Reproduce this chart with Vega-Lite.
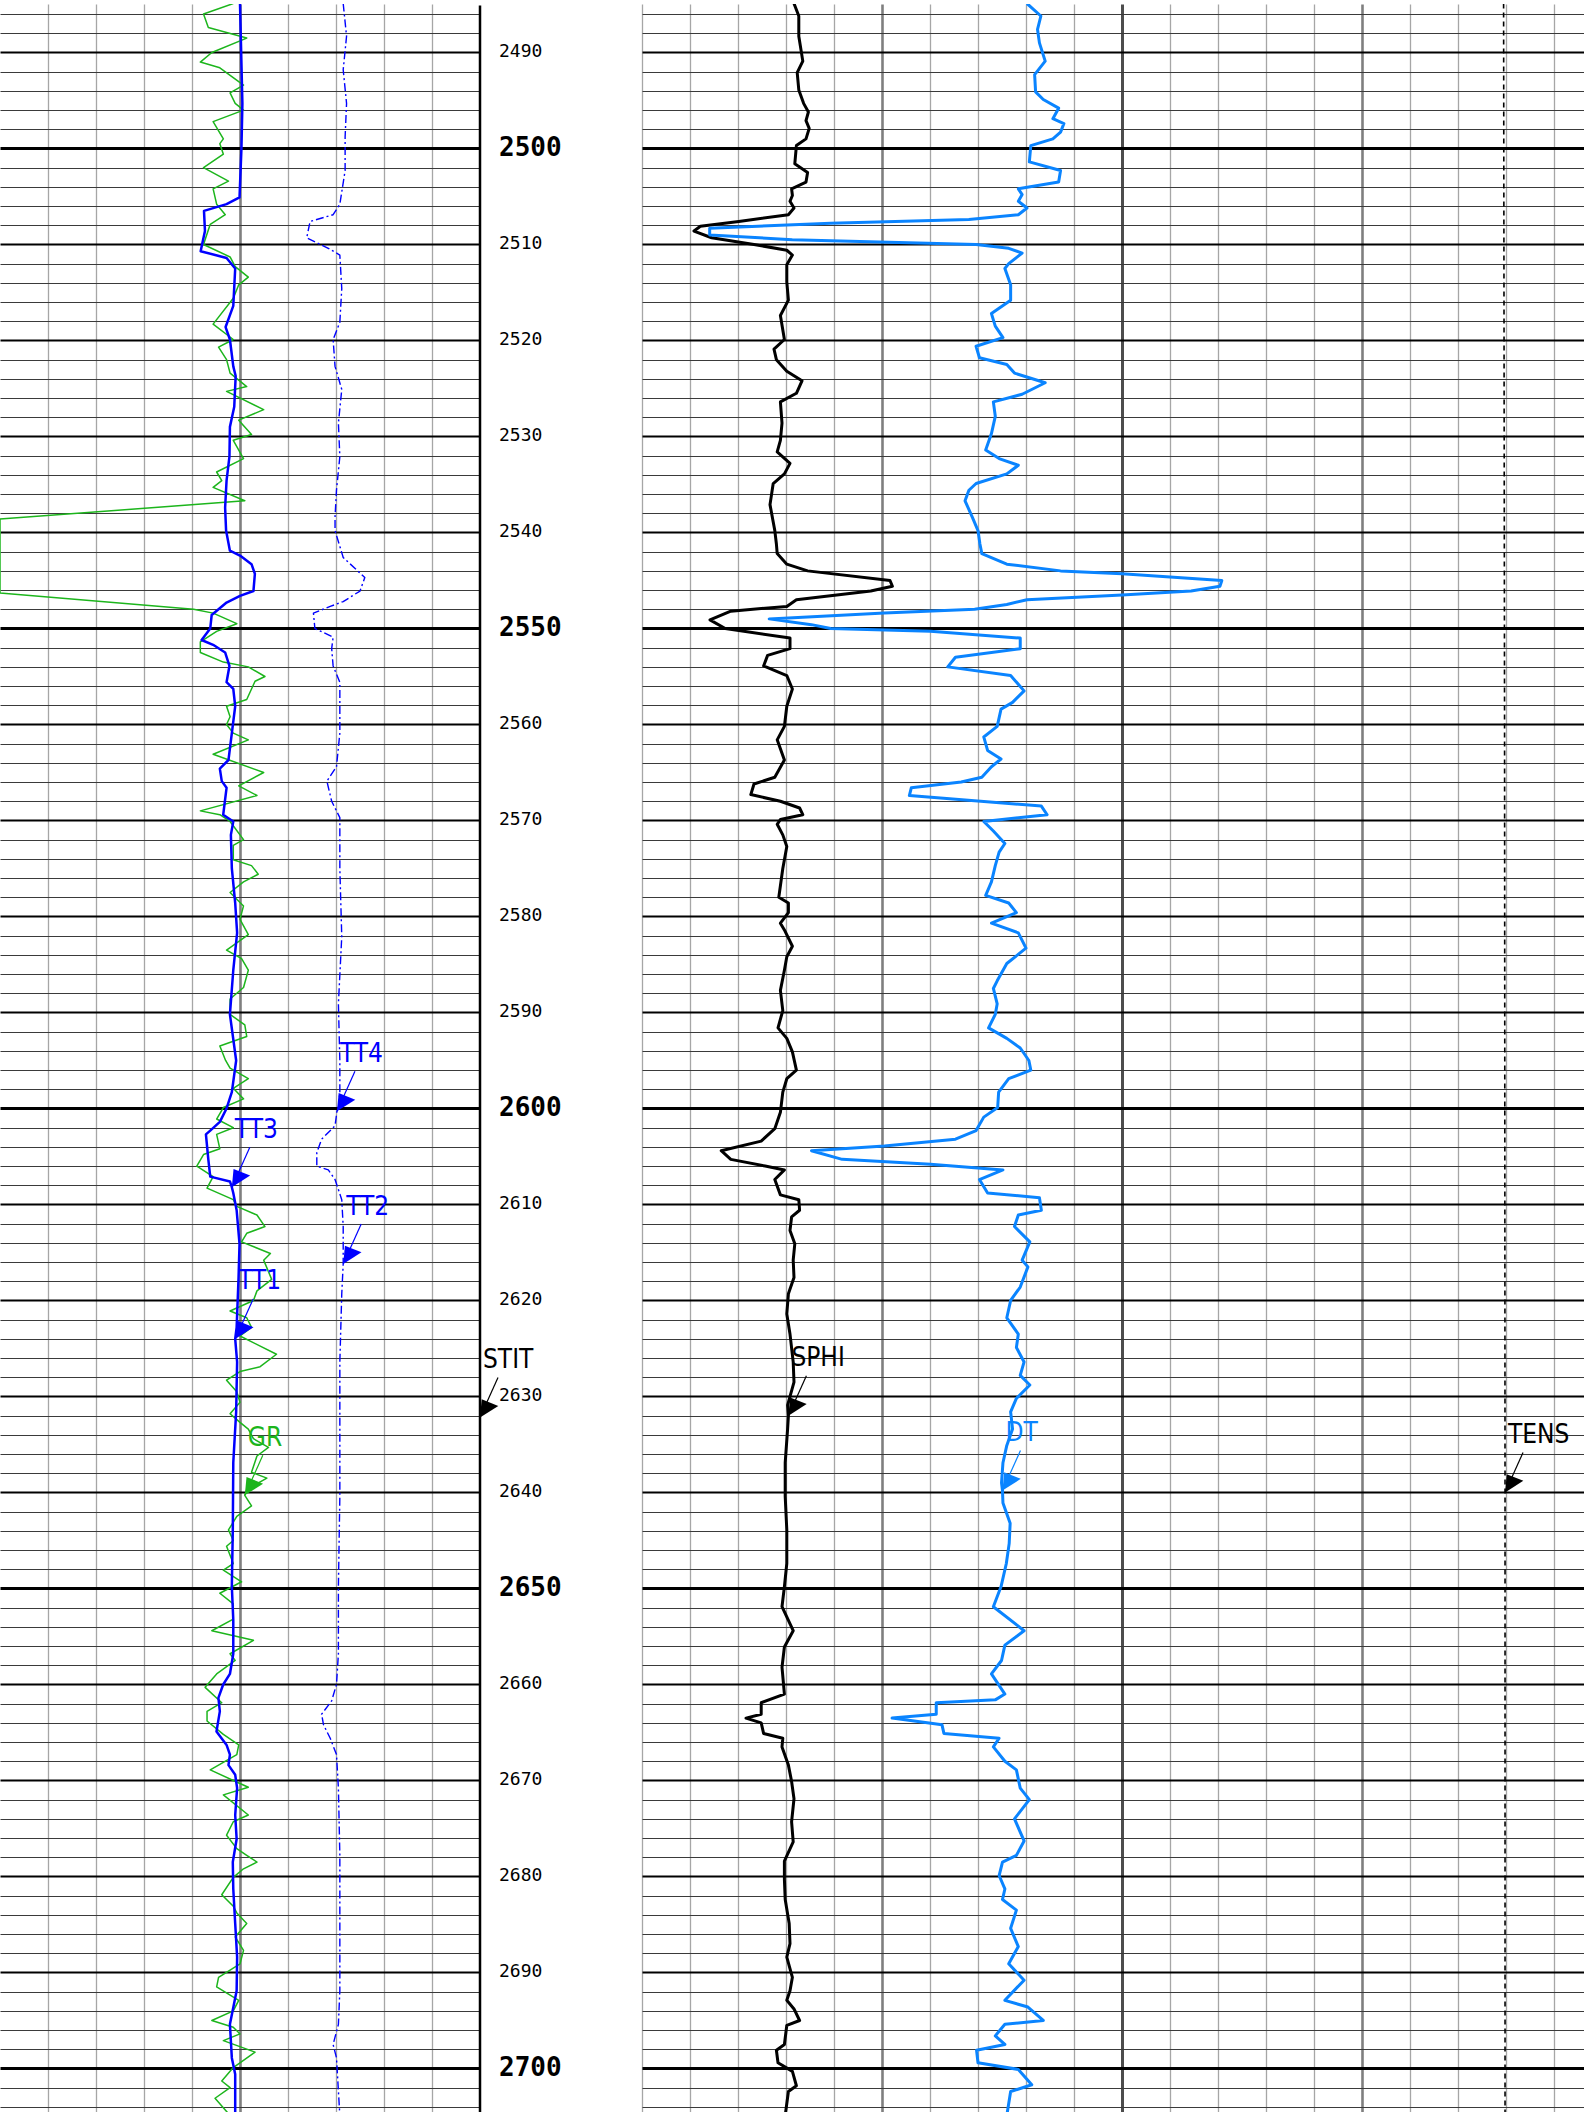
{
  "$schema": "https://vega.github.io/schema/vega-lite/v6.json",
  "padding": 0,
  "spacing": 0,
  "bounds": "flush",
  "background": "white",
  "config": {"view": {"stroke": null}},
  "datasets": {
    "gr": [{"depth":2484.9,"gr":72.9},{"depth":2486.0,"gr":63.6},{"depth":2487.4,"gr":65.1},{"depth":2488.5,"gr":77.1},{"depth":2490.0,"gr":66.2},{"depth":2491.0,"gr":62.6},{"depth":2491.6,"gr":68.7},{"depth":2493.4,"gr":76.1},{"depth":2494.2,"gr":71.9},{"depth":2495.3,"gr":73.5},{"depth":2496.0,"gr":76.1},{"depth":2497.2,"gr":66.6},{"depth":2499.0,"gr":69.8},{"depth":2499.5,"gr":68.7},{"depth":2500.6,"gr":69.8},{"depth":2502.0,"gr":63.6},{"depth":2503.4,"gr":71.4},{"depth":2504.2,"gr":66.6},{"depth":2505.8,"gr":67.7},{"depth":2506.9,"gr":70.4},{"depth":2507.9,"gr":65.7},{"depth":2510.0,"gr":63.6},{"depth":2511.3,"gr":71.9},{"depth":2512.3,"gr":73.5},{"depth":2513.4,"gr":77.6},{"depth":2514.2,"gr":74.6},{"depth":2515.6,"gr":72.9},{"depth":2518.3,"gr":66.6},{"depth":2519.9,"gr":72.9},{"depth":2520.7,"gr":68.3},{"depth":2522.0,"gr":70.8},{"depth":2523.4,"gr":71.9},{"depth":2524.8,"gr":77.1},{"depth":2525.3,"gr":70.8},{"depth":2527.2,"gr":82.4},{"depth":2528.3,"gr":74.6},{"depth":2529.8,"gr":78.6},{"depth":2530.4,"gr":72.9},{"depth":2532.3,"gr":76.1},{"depth":2533.7,"gr":67.7},{"depth":2534.6,"gr":69.3},{"depth":2535.3,"gr":66.6},{"depth":2536.7,"gr":76.5},{"depth":2538.6,"gr":0},{"depth":2546.3,"gr":0},{"depth":2548.0,"gr":60.5},{"depth":2548.4,"gr":66.6},{"depth":2549.5,"gr":74.0},{"depth":2550.3,"gr":67.7},{"depth":2551.4,"gr":62.6},{"depth":2552.5,"gr":62.6},{"depth":2553.5,"gr":69.8},{"depth":2554.0,"gr":77.6},{"depth":2555.0,"gr":82.8},{"depth":2555.5,"gr":79.7},{"depth":2557.4,"gr":77.1},{"depth":2558.1,"gr":70.8},{"depth":2559.2,"gr":71.9},{"depth":2560.0,"gr":70.8},{"depth":2560.9,"gr":72.9},{"depth":2561.6,"gr":77.6},{"depth":2563.1,"gr":66.6},{"depth":2565.0,"gr":82.4},{"depth":2566.4,"gr":74.6},{"depth":2567.4,"gr":80.3},{"depth":2569.0,"gr":62.6},{"depth":2569.4,"gr":68.7},{"depth":2570.1,"gr":71.9},{"depth":2572.0,"gr":76.1},{"depth":2572.6,"gr":72.9},{"depth":2574.1,"gr":72.9},{"depth":2574.7,"gr":78.6},{"depth":2575.6,"gr":80.7},{"depth":2576.4,"gr":76.1},{"depth":2577.5,"gr":71.9},{"depth":2578.9,"gr":76.1},{"depth":2580.3,"gr":75.0},{"depth":2581.9,"gr":77.6},{"depth":2583.5,"gr":70.8},{"depth":2584.4,"gr":75.5},{"depth":2585.6,"gr":77.6},{"depth":2587.4,"gr":76.1},{"depth":2588.6,"gr":71.9},{"depth":2590.2,"gr":71.9},{"depth":2591.3,"gr":76.5},{"depth":2592.5,"gr":77.1},{"depth":2593.5,"gr":68.7},{"depth":2595.0,"gr":70.5},{"depth":2595.8,"gr":71.9},{"depth":2596.9,"gr":77.6},{"depth":2597.9,"gr":72.9},{"depth":2599.0,"gr":76.1},{"depth":2599.9,"gr":69.8},{"depth":2601.1,"gr":67.7},{"depth":2602.0,"gr":72.9},{"depth":2602.7,"gr":67.7},{"depth":2604.2,"gr":68.7},{"depth":2604.8,"gr":63.6},{"depth":2606.0,"gr":61.5},{"depth":2607.1,"gr":66.6},{"depth":2608.3,"gr":64.7},{"depth":2609.5,"gr":72.9},{"depth":2610.2,"gr":74.0},{"depth":2611.1,"gr":80.3},{"depth":2612.3,"gr":82.8},{"depth":2613.0,"gr":77.1},{"depth":2613.9,"gr":75.5},{"depth":2615.1,"gr":84.5},{"depth":2615.8,"gr":82.4},{"depth":2617.8,"gr":84.9},{"depth":2619.0,"gr":80.3},{"depth":2620.0,"gr":79.2},{"depth":2621.1,"gr":71.9},{"depth":2621.8,"gr":77.1},{"depth":2622.8,"gr":78.6},{"depth":2623.7,"gr":75.0},{"depth":2625.6,"gr":86.4},{"depth":2626.9,"gr":81.3},{"depth":2627.4,"gr":75.0},{"depth":2628.3,"gr":70.8},{"depth":2629.5,"gr":74.0},{"depth":2630.6,"gr":75.0},{"depth":2631.8,"gr":71.9},{"depth":2632.7,"gr":75.0},{"depth":2633.4,"gr":77.6},{"depth":2634.4,"gr":79.2},{"depth":2635.3,"gr":83.9},{"depth":2636.2,"gr":80.3},{"depth":2637.9,"gr":78.6},{"depth":2638.5,"gr":83.4},{"depth":2639.7,"gr":77.1},{"depth":2640.3,"gr":76.5,"label":"GR"},{"depth":2641.4,"gr":78.6},{"depth":2642.5,"gr":74.0},{"depth":2643.9,"gr":71.4},{"depth":2645.0,"gr":72.9},{"depth":2645.6,"gr":70.8},{"depth":2647.4,"gr":72.9},{"depth":2648.1,"gr":69.8},{"depth":2649.3,"gr":75.5},{"depth":2650.5,"gr":68.7},{"depth":2651.6,"gr":72.9},{"depth":2653.2,"gr":72.9},{"depth":2654.4,"gr":66.2},{"depth":2655.4,"gr":79.2},{"depth":2656.8,"gr":71.9},{"depth":2657.5,"gr":73.5},{"depth":2658.9,"gr":67.7},{"depth":2660.3,"gr":64.1},{"depth":2661.9,"gr":69.3},{"depth":2662.8,"gr":64.7},{"depth":2663.8,"gr":64.7},{"depth":2665.2,"gr":69.8},{"depth":2666.3,"gr":74.6},{"depth":2667.3,"gr":74.0},{"depth":2668.9,"gr":65.7},{"depth":2670.0,"gr":72.9},{"depth":2670.7,"gr":77.6},{"depth":2671.5,"gr":69.8},{"depth":2673.6,"gr":77.6},{"depth":2674.3,"gr":72.9},{"depth":2675.7,"gr":70.8},{"depth":2677.1,"gr":74.0},{"depth":2677.8,"gr":77.1},{"depth":2678.5,"gr":80.3},{"depth":2679.2,"gr":76.1},{"depth":2680.1,"gr":72.9},{"depth":2681.9,"gr":69.3},{"depth":2683.1,"gr":72.9},{"depth":2683.8,"gr":74.0},{"depth":2684.9,"gr":77.1},{"depth":2686.3,"gr":73.5},{"depth":2687.7,"gr":76.1},{"depth":2689.1,"gr":75.0},{"depth":2690.5,"gr":68.3},{"depth":2691.5,"gr":67.7},{"depth":2692.9,"gr":74.6},{"depth":2694.0,"gr":72.9},{"depth":2695.0,"gr":66.2},{"depth":2695.7,"gr":72.9},{"depth":2696.4,"gr":75.0},{"depth":2697.1,"gr":69.8},{"depth":2698.3,"gr":79.7},{"depth":2699.9,"gr":72.9},{"depth":2701.3,"gr":69.3},{"depth":2702.0,"gr":71.9},{"depth":2703.1,"gr":67.2},{"depth":2704.9,"gr":71.9}],
    "tt13": [{"depth":2484.9,"tt":500},{"depth":2495.3,"tt":505},{"depth":2500.0,"tt":503},{"depth":2505.1,"tt":499},{"depth":2505.8,"tt":472},{"depth":2506.5,"tt":425},{"depth":2508.6,"tt":427},{"depth":2510.7,"tt":418},{"depth":2511.4,"tt":472},{"depth":2512.5,"tt":490},{"depth":2516.4,"tt":486},{"depth":2518.6,"tt":470},{"depth":2519.9,"tt":479},{"depth":2522.7,"tt":486},{"depth":2523.7,"tt":491},{"depth":2526.9,"tt":488},{"depth":2529.0,"tt":479},{"depth":2532.1,"tt":478},{"depth":2534.6,"tt":472},{"depth":2537.4,"tt":469},{"depth":2539.8,"tt":471},{"depth":2541.9,"tt":479},{"depth":2542.4,"tt":500},{"depth":2543.3,"tt":524},{"depth":2544.3,"tt":531},{"depth":2546.1,"tt":528},{"depth":2546.6,"tt":500},{"depth":2547.3,"tt":472},{"depth":2548.6,"tt":441},{"depth":2550.0,"tt":438},{"depth":2551.2,"tt":420},{"depth":2551.7,"tt":444},{"depth":2552.5,"tt":469},{"depth":2553.9,"tt":478},{"depth":2555.6,"tt":472},{"depth":2556.3,"tt":486},{"depth":2558.1,"tt":490},{"depth":2560.9,"tt":483},{"depth":2563.7,"tt":476},{"depth":2564.6,"tt":458},{"depth":2565.9,"tt":462},{"depth":2566.6,"tt":472},{"depth":2569.4,"tt":465},{"depth":2570.1,"tt":486},{"depth":2571.5,"tt":481},{"depth":2575.0,"tt":483},{"depth":2578.6,"tt":490},{"depth":2581.7,"tt":494},{"depth":2585.6,"tt":486},{"depth":2590.2,"tt":479},{"depth":2595.0,"tt":492},{"depth":2598.3,"tt":483},{"depth":2600.0,"tt":472},{"depth":2601.4,"tt":458},{"depth":2602.3,"tt":438},{"depth":2602.7,"tt":429},{"depth":2605.3,"tt":434},{"depth":2607.1,"tt":438},{"depth":2607.6,"tt":479},{"depth":2608.2,"tt":483,"label":"TT3"},{"depth":2608.8,"tt":486},{"depth":2610.6,"tt":493},{"depth":2614.1,"tt":499},{"depth":2617.6,"tt":497},{"depth":2622.8,"tt":493},{"depth":2624.0,"tt":490,"label":"TT1"},{"depth":2626.4,"tt":494},{"depth":2631.6,"tt":492},{"depth":2636.9,"tt":486},{"depth":2643.9,"tt":485},{"depth":2649.8,"tt":483},{"depth":2653.3,"tt":486},{"depth":2656.8,"tt":486},{"depth":2658.9,"tt":479},{"depth":2660.0,"tt":465},{"depth":2661.4,"tt":455},{"depth":2662.8,"tt":458},{"depth":2664.9,"tt":451},{"depth":2666.3,"tt":472},{"depth":2667.3,"tt":479},{"depth":2668.4,"tt":476},{"depth":2669.4,"tt":490},{"depth":2670.8,"tt":494},{"depth":2673.6,"tt":490},{"depth":2676.1,"tt":493},{"depth":2678.5,"tt":485},{"depth":2681.3,"tt":486},{"depth":2684.9,"tt":490},{"depth":2688.4,"tt":494},{"depth":2691.9,"tt":493},{"depth":2695.4,"tt":479},{"depth":2698.9,"tt":483},{"depth":2700.6,"tt":490},{"depth":2704.9,"tt":490}],
    "tt24": [{"depth":2484.9,"tt":715},{"depth":2488.3,"tt":722},{"depth":2491.8,"tt":715},{"depth":2495.3,"tt":722},{"depth":2498.8,"tt":719},{"depth":2502.3,"tt":719},{"depth":2505.8,"tt":708},{"depth":2506.9,"tt":694},{"depth":2507.6,"tt":646},{"depth":2509.3,"tt":639},{"depth":2510.4,"tt":684},{"depth":2511.1,"tt":708},{"depth":2514.6,"tt":712},{"depth":2518.1,"tt":708},{"depth":2519.9,"tt":694},{"depth":2522.7,"tt":698},{"depth":2525.1,"tt":712},{"depth":2528.6,"tt":705},{"depth":2532.1,"tt":708},{"depth":2535.6,"tt":701},{"depth":2538.4,"tt":698},{"depth":2539.8,"tt":698},{"depth":2542.6,"tt":715},{"depth":2544.7,"tt":760},{"depth":2546.1,"tt":750},{"depth":2547.2,"tt":715},{"depth":2547.7,"tt":688},{"depth":2548.4,"tt":653},{"depth":2550.0,"tt":656},{"depth":2550.9,"tt":694},{"depth":2552.1,"tt":691},{"depth":2553.9,"tt":694},{"depth":2555.6,"tt":708},{"depth":2560.9,"tt":708},{"depth":2564.4,"tt":701},{"depth":2565.9,"tt":681},{"depth":2568.0,"tt":691},{"depth":2569.7,"tt":708},{"depth":2575.0,"tt":708},{"depth":2582.1,"tt":712},{"depth":2589.1,"tt":705},{"depth":2595.0,"tt":708},{"depth":2598.3,"tt":708},{"depth":2600.0,"tt":705},{"depth":2600.3,"tt":702,"label":"TT4"},{"depth":2601.8,"tt":698},{"depth":2603.2,"tt":670},{"depth":2604.6,"tt":660},{"depth":2606.0,"tt":660},{"depth":2606.4,"tt":684},{"depth":2607.4,"tt":698},{"depth":2609.5,"tt":712},{"depth":2612.3,"tt":715},{"depth":2615.8,"tt":715},{"depth":2616.2,"tt":715,"label":"TT2"},{"depth":2619.3,"tt":712},{"depth":2626.4,"tt":708},{"depth":2633.4,"tt":708},{"depth":2640.4,"tt":708},{"depth":2649.8,"tt":705},{"depth":2656.8,"tt":705},{"depth":2660.0,"tt":701},{"depth":2661.7,"tt":691},{"depth":2663.1,"tt":670},{"depth":2664.2,"tt":674},{"depth":2665.6,"tt":688},{"depth":2667.3,"tt":701},{"depth":2670.8,"tt":705},{"depth":2677.8,"tt":708},{"depth":2684.9,"tt":708},{"depth":2691.9,"tt":708},{"depth":2695.4,"tt":705},{"depth":2697.5,"tt":694},{"depth":2698.9,"tt":701},{"depth":2704.9,"tt":708}],
    "stit": [{"depth":2485.1,"stit":100},{"depth":2632.2,"stit":100,"label":"STIT"},{"depth":2704.8,"stit":100}],
    "sphi": [{"depth":2484.9,"sphi":0.260},{"depth":2486.2,"sphi":0.254},{"depth":2488.3,"sphi":0.254},{"depth":2490.9,"sphi":0.249},{"depth":2492.1,"sphi":0.256},{"depth":2493.9,"sphi":0.254},{"depth":2495.3,"sphi":0.248},{"depth":2496.2,"sphi":0.242},{"depth":2497.1,"sphi":0.245},{"depth":2497.9,"sphi":0.241},{"depth":2499.0,"sphi":0.245},{"depth":2499.7,"sphi":0.257},{"depth":2501.6,"sphi":0.259},{"depth":2502.5,"sphi":0.243},{"depth":2503.5,"sphi":0.245},{"depth":2504.2,"sphi":0.263},{"depth":2504.9,"sphi":0.262},{"depth":2505.5,"sphi":0.265},{"depth":2506.2,"sphi":0.260},{"depth":2506.9,"sphi":0.267},{"depth":2507.6,"sphi":0.329},{"depth":2508.1,"sphi":0.377},{"depth":2508.6,"sphi":0.385},{"depth":2509.3,"sphi":0.363},{"depth":2510.0,"sphi":0.310},{"depth":2510.6,"sphi":0.269},{"depth":2511.1,"sphi":0.262},{"depth":2512.1,"sphi":0.269},{"depth":2513.9,"sphi":0.269},{"depth":2515.8,"sphi":0.267},{"depth":2517.4,"sphi":0.277},{"depth":2519.9,"sphi":0.272},{"depth":2520.9,"sphi":0.285},{"depth":2522.0,"sphi":0.282},{"depth":2523.2,"sphi":0.269},{"depth":2524.2,"sphi":0.250},{"depth":2525.5,"sphi":0.257},{"depth":2526.4,"sphi":0.277},{"depth":2528.6,"sphi":0.275},{"depth":2530.4,"sphi":0.277},{"depth":2531.6,"sphi":0.281},{"depth":2532.8,"sphi":0.265},{"depth":2533.9,"sphi":0.272},{"depth":2534.9,"sphi":0.286},{"depth":2537.1,"sphi":0.290},{"depth":2539.8,"sphi":0.284},{"depth":2541.2,"sphi":0.282},{"depth":2542.2,"sphi":0.281},{"depth":2543.3,"sphi":0.269},{"depth":2544.0,"sphi":0.243},{"depth":2545.0,"sphi":0.140},{"depth":2545.6,"sphi":0.137},{"depth":2546.1,"sphi":0.164},{"depth":2547.0,"sphi":0.257},{"depth":2547.7,"sphi":0.269},{"depth":2548.2,"sphi":0.339},{"depth":2549.1,"sphi":0.365},{"depth":2550.0,"sphi":0.346},{"depth":2551.0,"sphi":0.265},{"depth":2552.1,"sphi":0.265},{"depth":2552.8,"sphi":0.293},{"depth":2553.9,"sphi":0.298},{"depth":2554.9,"sphi":0.269},{"depth":2556.3,"sphi":0.262},{"depth":2558.1,"sphi":0.269},{"depth":2560.2,"sphi":0.272},{"depth":2561.6,"sphi":0.281},{"depth":2563.7,"sphi":0.272},{"depth":2565.5,"sphi":0.284},{"depth":2566.2,"sphi":0.310},{"depth":2567.3,"sphi":0.314},{"depth":2568.0,"sphi":0.277},{"depth":2568.7,"sphi":0.253},{"depth":2569.4,"sphi":0.249},{"depth":2569.9,"sphi":0.277},{"depth":2570.4,"sphi":0.281},{"depth":2571.5,"sphi":0.274},{"depth":2572.7,"sphi":0.269},{"depth":2575.0,"sphi":0.274},{"depth":2576.8,"sphi":0.277},{"depth":2578.0,"sphi":0.279},{"depth":2578.6,"sphi":0.267},{"depth":2579.6,"sphi":0.267},{"depth":2580.7,"sphi":0.277},{"depth":2581.4,"sphi":0.272},{"depth":2583.1,"sphi":0.262},{"depth":2584.2,"sphi":0.269},{"depth":2585.6,"sphi":0.272},{"depth":2587.7,"sphi":0.277},{"depth":2589.8,"sphi":0.274},{"depth":2591.6,"sphi":0.280},{"depth":2592.7,"sphi":0.269},{"depth":2594.1,"sphi":0.262},{"depth":2596.0,"sphi":0.257},{"depth":2596.9,"sphi":0.269},{"depth":2598.3,"sphi":0.274},{"depth":2600.4,"sphi":0.277},{"depth":2602.1,"sphi":0.284},{"depth":2603.4,"sphi":0.301},{"depth":2604.4,"sphi":0.351},{"depth":2605.3,"sphi":0.339},{"depth":2606.0,"sphi":0.296},{"depth":2606.4,"sphi":0.272},{"depth":2607.4,"sphi":0.284},{"depth":2609.0,"sphi":0.277},{"depth":2609.5,"sphi":0.254},{"depth":2610.6,"sphi":0.253},{"depth":2611.3,"sphi":0.263},{"depth":2612.7,"sphi":0.265},{"depth":2614.1,"sphi":0.259},{"depth":2615.8,"sphi":0.261},{"depth":2617.6,"sphi":0.260},{"depth":2619.3,"sphi":0.267},{"depth":2621.4,"sphi":0.269},{"depth":2623.5,"sphi":0.265},{"depth":2626.4,"sphi":0.261},{"depth":2628.5,"sphi":0.260},{"depth":2630.9,"sphi":0.268},{"depth":2632.0,"sphi":0.267,"label":"SPHI"},{"depth":2633.4,"sphi":0.268},{"depth":2636.9,"sphi":0.271},{"depth":2640.4,"sphi":0.271},{"depth":2643.9,"sphi":0.269},{"depth":2647.4,"sphi":0.269},{"depth":2649.8,"sphi":0.272},{"depth":2651.9,"sphi":0.275},{"depth":2654.4,"sphi":0.261},{"depth":2656.1,"sphi":0.272},{"depth":2658.2,"sphi":0.275},{"depth":2661.0,"sphi":0.272},{"depth":2661.9,"sphi":0.301},{"depth":2663.1,"sphi":0.301},{"depth":2663.5,"sphi":0.320},{"depth":2664.0,"sphi":0.301},{"depth":2665.1,"sphi":0.298},{"depth":2665.6,"sphi":0.274},{"depth":2666.5,"sphi":0.275},{"depth":2668.4,"sphi":0.267},{"depth":2670.1,"sphi":0.263},{"depth":2671.9,"sphi":0.260},{"depth":2674.3,"sphi":0.263},{"depth":2676.4,"sphi":0.261},{"depth":2678.4,"sphi":0.272},{"depth":2680.3,"sphi":0.272},{"depth":2682.4,"sphi":0.271},{"depth":2684.9,"sphi":0.266},{"depth":2687.0,"sphi":0.265},{"depth":2688.4,"sphi":0.269},{"depth":2690.5,"sphi":0.262},{"depth":2691.9,"sphi":0.265},{"depth":2692.9,"sphi":0.269},{"depth":2693.8,"sphi":0.260},{"depth":2695.0,"sphi":0.253},{"depth":2695.5,"sphi":0.269},{"depth":2697.5,"sphi":0.272},{"depth":2698.1,"sphi":0.282},{"depth":2699.4,"sphi":0.280},{"depth":2700.3,"sphi":0.262},{"depth":2701.8,"sphi":0.257},{"depth":2702.4,"sphi":0.267},{"depth":2704.9,"sphi":0.271}],
    "dt": [{"depth":2484.9,"dt":59.8},{"depth":2486.2,"dt":56.9},{"depth":2487.6,"dt":57.6},{"depth":2489.0,"dt":57.2},{"depth":2490.9,"dt":56.0},{"depth":2492.3,"dt":58.2},{"depth":2494.1,"dt":58.0},{"depth":2494.9,"dt":56.4},{"depth":2495.8,"dt":53.2},{"depth":2496.9,"dt":54.4},{"depth":2497.4,"dt":52.1},{"depth":2498.3,"dt":52.8},{"depth":2499.0,"dt":54.4},{"depth":2499.7,"dt":59.0},{"depth":2501.4,"dt":59.3},{"depth":2502.3,"dt":52.8},{"depth":2503.5,"dt":53.2},{"depth":2504.2,"dt":61.6},{"depth":2504.8,"dt":60.8},{"depth":2505.5,"dt":61.6},{"depth":2506.2,"dt":59.8},{"depth":2506.9,"dt":61.6},{"depth":2507.4,"dt":71.9},{"depth":2507.8,"dt":100.7},{"depth":2508.3,"dt":125.9},{"depth":2509.0,"dt":125.9},{"depth":2509.5,"dt":108.7},{"depth":2510.0,"dt":70.4},{"depth":2510.4,"dt":63.6},{"depth":2510.9,"dt":60.8},{"depth":2512.0,"dt":63.6},{"depth":2512.5,"dt":64.4},{"depth":2514.2,"dt":63.2},{"depth":2515.8,"dt":63.2},{"depth":2517.2,"dt":67.2},{"depth":2518.5,"dt":66.4},{"depth":2519.7,"dt":64.8},{"depth":2520.6,"dt":70.4},{"depth":2521.8,"dt":69.7},{"depth":2522.5,"dt":64.0},{"depth":2523.4,"dt":62.4},{"depth":2524.4,"dt":56.0},{"depth":2525.6,"dt":60.8},{"depth":2526.4,"dt":66.8},{"depth":2527.9,"dt":66.4},{"depth":2529.7,"dt":67.2},{"depth":2531.4,"dt":68.4},{"depth":2532.3,"dt":65.6},{"depth":2533.0,"dt":61.6},{"depth":2533.9,"dt":64.0},{"depth":2534.9,"dt":70.4},{"depth":2535.6,"dt":71.9},{"depth":2536.7,"dt":72.7},{"depth":2538.5,"dt":71.1},{"depth":2539.8,"dt":70.0},{"depth":2541.2,"dt":69.6},{"depth":2542.2,"dt":69.2},{"depth":2543.3,"dt":64.0},{"depth":2544.0,"dt":52.8},{"depth":2544.3,"dt":40.0},{"depth":2545.0,"dt":19.2},{"depth":2545.6,"dt":19.6},{"depth":2546.1,"dt":25.6},{"depth":2546.5,"dt":40.0},{"depth":2547.0,"dt":59.8},{"depth":2547.5,"dt":64.0},{"depth":2548.0,"dt":70.7},{"depth":2548.4,"dt":89.5},{"depth":2549.0,"dt":113.5},{"depth":2549.6,"dt":104.7},{"depth":2550.0,"dt":100.7},{"depth":2550.3,"dt":79.9},{"depth":2551.0,"dt":61.2},{"depth":2552.1,"dt":61.2},{"depth":2553.0,"dt":74.7},{"depth":2554.0,"dt":76.3},{"depth":2554.9,"dt":63.2},{"depth":2556.5,"dt":60.4},{"depth":2557.7,"dt":62.8},{"depth":2558.4,"dt":65.2},{"depth":2560.2,"dt":66.0},{"depth":2561.3,"dt":68.8},{"depth":2562.7,"dt":68.0},{"depth":2563.6,"dt":65.2},{"depth":2564.4,"dt":67.2},{"depth":2565.5,"dt":69.2},{"depth":2566.0,"dt":73.5},{"depth":2566.6,"dt":83.9},{"depth":2567.4,"dt":84.3},{"depth":2568.5,"dt":56.8},{"depth":2569.4,"dt":55.6},{"depth":2570.1,"dt":68.8},{"depth":2571.1,"dt":66.8},{"depth":2572.4,"dt":64.4},{"depth":2573.3,"dt":65.6},{"depth":2574.7,"dt":66.4},{"depth":2576.4,"dt":67.2},{"depth":2577.8,"dt":68.4},{"depth":2578.6,"dt":63.6},{"depth":2579.6,"dt":62.0},{"depth":2580.7,"dt":67.2},{"depth":2581.7,"dt":61.6},{"depth":2583.3,"dt":60.0},{"depth":2584.9,"dt":64.0},{"depth":2586.7,"dt":66.0},{"depth":2587.5,"dt":66.8},{"depth":2589.1,"dt":66.0},{"depth":2590.2,"dt":66.4},{"depth":2591.6,"dt":67.8},{"depth":2592.7,"dt":64.0},{"depth":2593.7,"dt":61.2},{"depth":2595.0,"dt":59.4},{"depth":2596.0,"dt":59.0},{"depth":2596.9,"dt":63.6},{"depth":2598.3,"dt":65.7},{"depth":2599.9,"dt":65.9},{"depth":2600.9,"dt":68.8},{"depth":2602.3,"dt":70.4},{"depth":2603.2,"dt":74.7},{"depth":2603.9,"dt":89.5},{"depth":2604.4,"dt":104.7},{"depth":2605.3,"dt":98.3},{"depth":2605.8,"dt":79.9},{"depth":2606.4,"dt":64.8},{"depth":2607.4,"dt":69.7},{"depth":2608.8,"dt":68.0},{"depth":2609.3,"dt":57.2},{"depth":2610.6,"dt":56.8},{"depth":2611.1,"dt":61.6},{"depth":2612.3,"dt":62.4},{"depth":2613.9,"dt":59.2},{"depth":2615.8,"dt":60.8},{"depth":2616.5,"dt":59.6},{"depth":2618.6,"dt":61.2},{"depth":2620.0,"dt":63.2},{"depth":2621.8,"dt":64.0},{"depth":2623.5,"dt":61.6},{"depth":2624.9,"dt":62.0},{"depth":2626.4,"dt":60.4},{"depth":2627.8,"dt":61.2},{"depth":2628.8,"dt":59.2},{"depth":2630.2,"dt":62.0},{"depth":2631.6,"dt":63.2},{"depth":2633.4,"dt":62.8},{"depth":2635.1,"dt":64.0},{"depth":2636.9,"dt":64.8},{"depth":2639.0,"dt":65.1},{"depth":2639.8,"dt":64.9,"label":"DT"},{"depth":2641.1,"dt":64.8},{"depth":2643.2,"dt":63.3},{"depth":2645.3,"dt":63.5},{"depth":2647.4,"dt":64.1},{"depth":2649.8,"dt":65.2},{"depth":2651.9,"dt":66.8},{"depth":2654.4,"dt":60.4},{"depth":2655.9,"dt":64.4},{"depth":2657.5,"dt":65.1},{"depth":2658.9,"dt":67.2},{"depth":2661.0,"dt":64.4},{"depth":2661.6,"dt":66.4},{"depth":2661.9,"dt":78.7},{"depth":2663.1,"dt":78.7},{"depth":2663.5,"dt":87.9},{"depth":2664.2,"dt":77.5},{"depth":2665.1,"dt":77.1},{"depth":2665.6,"dt":65.6},{"depth":2666.5,"dt":66.8},{"depth":2668.0,"dt":64.4},{"depth":2668.9,"dt":62.0},{"depth":2670.8,"dt":61.2},{"depth":2672.0,"dt":59.3},{"depth":2674.0,"dt":62.4},{"depth":2676.3,"dt":60.4},{"depth":2677.8,"dt":62.0},{"depth":2678.5,"dt":64.9},{"depth":2679.9,"dt":65.6},{"depth":2681.3,"dt":64.4},{"depth":2682.4,"dt":64.9},{"depth":2683.5,"dt":62.0},{"depth":2685.4,"dt":63.2},{"depth":2687.3,"dt":61.6},{"depth":2689.1,"dt":63.6},{"depth":2690.8,"dt":60.4},{"depth":2692.9,"dt":64.4},{"depth":2693.6,"dt":59.6},{"depth":2695.0,"dt":56.4},{"depth":2695.4,"dt":64.4},{"depth":2696.6,"dt":66.4},{"depth":2697.5,"dt":64.4},{"depth":2698.1,"dt":70.3},{"depth":2699.4,"dt":70.0},{"depth":2700.1,"dt":61.6},{"depth":2701.7,"dt":58.8},{"depth":2702.4,"dt":63.2},{"depth":2704.9,"dt":64.0}],
    "tens": [{"depth":2484.9,"tens":8975},{"depth":2560.0,"tens":8985},{"depth":2640.0,"tens":8990,"label":"TENS"},{"depth":2704.9,"tens":8990}],
    "depthlabels": [{"depth":2490},{"depth":2500},{"depth":2510},{"depth":2520},{"depth":2530},{"depth":2540},{"depth":2550},{"depth":2560},{"depth":2570},{"depth":2580},{"depth":2590},{"depth":2600},{"depth":2610},{"depth":2620},{"depth":2630},{"depth":2640},{"depth":2650},{"depth":2660},{"depth":2670},{"depth":2680},{"depth":2690},{"depth":2700}]
  },
  "hconcat": [
    {
      "width": 480,
      "height": 2112,
      "resolve": {"scale": {"x": "independent"}, "axis": {"x": "independent", "y": "independent"}},
      "layer": [
        {
          "data": {"name": "gr"},
          "resolve": {"axis": {"x": "independent", "y": "independent"}},
          "layer": [
            {
              "mark": {"type": "line", "color": "#1cb51c", "strokeWidth": 1.5, "clip": true, "strokeJoin": "round"},
              "encoding": {
                "x": {"field": "gr", "type": "quantitative", "scale": {"domain": [0, 150], "zero": false, "nice": false},
                  "axis": {"orient": "bottom", "values": [15, 30, 45, 60, 90, 105, 120, 135], "grid": true, "labels": false, "ticks": false, "domain": false, "title": null, "gridColor": "#a6a6a6", "gridWidth": 1.3, "gridOpacity": 1}},
                "y": {"field": "depth", "type": "quantitative", "scale": {"domain": [2484.95, 2704.95], "reverse": true, "zero": false, "nice": false},
                  "axis": {"orient": "left", "values": [2486,2488,2492,2494,2496,2498,2502,2504,2506,2508,2512,2514,2516,2518,2522,2524,2526,2528,2532,2534,2536,2538,2542,2544,2546,2548,2552,2554,2556,2558,2562,2564,2566,2568,2572,2574,2576,2578,2582,2584,2586,2588,2592,2594,2596,2598,2602,2604,2606,2608,2612,2614,2616,2618,2622,2624,2626,2628,2632,2634,2636,2638,2642,2644,2646,2648,2652,2654,2656,2658,2662,2664,2666,2668,2672,2674,2676,2678,2682,2684,2686,2688,2692,2694,2696,2698,2702,2704], "grid": true, "labels": false, "ticks": false, "domain": false, "title": null, "gridColor": "#3a3a3a", "gridWidth": 1, "gridOpacity": 1}},
                "order": {"field": "depth", "type": "quantitative"}
              }
            },
            {
              "transform": [{"filter": "isValid(datum.label)"}],
              "mark": {"type": "rule", "color": "#1cb51c", "strokeWidth": 1.2, "x2Offset": 18, "y2Offset": -40},
              "encoding": {
                "x": {"field": "gr", "type": "quantitative", "scale": {"domain": [0, 150], "zero": false, "nice": false},
                  "axis": {"orient": "bottom", "values": [75], "grid": true, "labels": false, "ticks": false, "domain": false, "title": null, "gridColor": "#7f7f7f", "gridWidth": 2.6, "gridOpacity": 1}},
                "x2": {"field": "gr"},
                "y": {"field": "depth", "type": "quantitative", "scale": {"domain": [2484.95, 2704.95], "reverse": true, "zero": false, "nice": false},
                  "axis": {"orient": "left", "values": [2490,2510,2520,2530,2540,2560,2570,2580,2590,2610,2620,2630,2640,2660,2670,2680,2690], "grid": true, "labels": false, "ticks": false, "domain": false, "title": null, "gridColor": "#000000", "gridWidth": 1.8, "gridOpacity": 1}},
                "y2": {"field": "depth"}
              }
            },
            {
              "transform": [{"filter": "isValid(datum.label)"}],
              "mark": {"type": "point", "shape": "M0,0 L0.17,-1.83 L1.83,-1.17 Z", "size": 400, "filled": true, "opacity": 1, "color": "#1cb51c", "strokeWidth": 0},
              "encoding": {
                "x": {"field": "gr", "type": "quantitative", "scale": {"domain": [0, 150], "zero": false, "nice": false}, "axis": null},
                "y": {"field": "depth", "type": "quantitative", "scale": {"domain": [2484.95, 2704.95], "reverse": true, "zero": false, "nice": false},
                  "axis": {"orient": "left", "values": [2500, 2550, 2600, 2650, 2700], "grid": true, "labels": false, "ticks": false, "domain": false, "title": null, "gridColor": "#000000", "gridWidth": 3, "gridOpacity": 1}}
              }
            },
            {
              "transform": [{"filter": "isValid(datum.label)"}],
              "mark": {"type": "text", "align": "left", "baseline": "middle", "dx": 3, "dy": -57.5, "font": "'Liberation Sans Narrow', 'DejaVu Sans Condensed', 'Liberation Sans', sans-serif", "fontSize": 26, "color": "#1cb51c"},
              "encoding": {
                "x": {"field": "gr", "type": "quantitative", "scale": {"domain": [0, 150], "zero": false, "nice": false}, "axis": null},
                "y": {"field": "depth", "type": "quantitative", "scale": {"domain": [2484.95, 2704.95], "reverse": true, "zero": false, "nice": false}, "axis": null},
                "text": {"field": "label"}
              }
            }
          ]
        },
        {
          "data": {"name": "tt13"},
          "layer": [
            {
              "mark": {"type": "line", "color": "#0000ff", "strokeWidth": 2.5, "clip": true, "strokeJoin": "round"},
              "encoding": {
                "x": {"field": "tt", "type": "quantitative", "scale": {"domain": [0, 1000], "zero": false, "nice": false}, "axis": null},
                "y": {"field": "depth", "type": "quantitative", "scale": {"domain": [2484.95, 2704.95], "reverse": true, "zero": false, "nice": false}, "axis": null},
                "order": {"field": "depth", "type": "quantitative"}
              }
            },
            {
              "transform": [{"filter": "isValid(datum.label)"}],
              "mark": {"type": "rule", "color": "#0000ff", "strokeWidth": 1.2, "x2Offset": 18, "y2Offset": -40},
              "encoding": {
                "x": {"field": "tt", "type": "quantitative", "scale": {"domain": [0, 1000], "zero": false, "nice": false}, "axis": null},
                "x2": {"field": "tt"},
                "y": {"field": "depth", "type": "quantitative", "scale": {"domain": [2484.95, 2704.95], "reverse": true, "zero": false, "nice": false}, "axis": null},
                "y2": {"field": "depth"}
              }
            },
            {
              "transform": [{"filter": "isValid(datum.label)"}],
              "mark": {"type": "point", "shape": "M0,0 L0.17,-1.83 L1.83,-1.17 Z", "size": 400, "filled": true, "opacity": 1, "color": "#0000ff", "strokeWidth": 0},
              "encoding": {
                "x": {"field": "tt", "type": "quantitative", "scale": {"domain": [0, 1000], "zero": false, "nice": false}, "axis": null},
                "y": {"field": "depth", "type": "quantitative", "scale": {"domain": [2484.95, 2704.95], "reverse": true, "zero": false, "nice": false}, "axis": null}
              }
            },
            {
              "transform": [{"filter": "isValid(datum.label)"}],
              "mark": {"type": "text", "align": "left", "baseline": "middle", "dx": 3, "dy": -57.5, "font": "'Liberation Sans Narrow', 'DejaVu Sans Condensed', 'Liberation Sans', sans-serif", "fontSize": 26, "color": "#0000ff"},
              "encoding": {
                "x": {"field": "tt", "type": "quantitative", "scale": {"domain": [0, 1000], "zero": false, "nice": false}, "axis": null},
                "y": {"field": "depth", "type": "quantitative", "scale": {"domain": [2484.95, 2704.95], "reverse": true, "zero": false, "nice": false}, "axis": null},
                "text": {"field": "label"}
              }
            }
          ]
        },
        {
          "data": {"name": "tt24"},
          "layer": [
            {
              "mark": {"type": "line", "color": "#0000ff", "strokeWidth": 1.4, "strokeDash": [8, 3, 2, 3], "clip": true, "strokeJoin": "round"},
              "encoding": {
                "x": {"field": "tt", "type": "quantitative", "scale": {"domain": [0, 1000], "zero": false, "nice": false}, "axis": null},
                "y": {"field": "depth", "type": "quantitative", "scale": {"domain": [2484.95, 2704.95], "reverse": true, "zero": false, "nice": false}, "axis": null},
                "order": {"field": "depth", "type": "quantitative"}
              }
            },
            {
              "transform": [{"filter": "isValid(datum.label)"}],
              "mark": {"type": "rule", "color": "#0000ff", "strokeWidth": 1.2, "x2Offset": 18, "y2Offset": -40},
              "encoding": {
                "x": {"field": "tt", "type": "quantitative", "scale": {"domain": [0, 1000], "zero": false, "nice": false}, "axis": null},
                "x2": {"field": "tt"},
                "y": {"field": "depth", "type": "quantitative", "scale": {"domain": [2484.95, 2704.95], "reverse": true, "zero": false, "nice": false}, "axis": null},
                "y2": {"field": "depth"}
              }
            },
            {
              "transform": [{"filter": "isValid(datum.label)"}],
              "mark": {"type": "point", "shape": "M0,0 L0.17,-1.83 L1.83,-1.17 Z", "size": 400, "filled": true, "opacity": 1, "color": "#0000ff", "strokeWidth": 0},
              "encoding": {
                "x": {"field": "tt", "type": "quantitative", "scale": {"domain": [0, 1000], "zero": false, "nice": false}, "axis": null},
                "y": {"field": "depth", "type": "quantitative", "scale": {"domain": [2484.95, 2704.95], "reverse": true, "zero": false, "nice": false}, "axis": null}
              }
            },
            {
              "transform": [{"filter": "isValid(datum.label)"}],
              "mark": {"type": "text", "align": "left", "baseline": "middle", "dx": 3, "dy": -57.5, "font": "'Liberation Sans Narrow', 'DejaVu Sans Condensed', 'Liberation Sans', sans-serif", "fontSize": 26, "color": "#0000ff"},
              "encoding": {
                "x": {"field": "tt", "type": "quantitative", "scale": {"domain": [0, 1000], "zero": false, "nice": false}, "axis": null},
                "y": {"field": "depth", "type": "quantitative", "scale": {"domain": [2484.95, 2704.95], "reverse": true, "zero": false, "nice": false}, "axis": null},
                "text": {"field": "label"}
              }
            }
          ]
        },
        {
          "data": {"name": "stit"},
          "layer": [
            {
              "mark": {"type": "line", "color": "#000000", "strokeWidth": 2.5},
              "encoding": {
                "x": {"field": "stit", "type": "quantitative", "scale": {"domain": [0, 100], "zero": false, "nice": false}, "axis": null},
                "y": {"field": "depth", "type": "quantitative", "scale": {"domain": [2484.95, 2704.95], "reverse": true, "zero": false, "nice": false}, "axis": null},
                "order": {"field": "depth", "type": "quantitative"}
              }
            },
            {
              "transform": [{"filter": "isValid(datum.label)"}],
              "mark": {"type": "rule", "color": "#000000", "strokeWidth": 1.2, "x2Offset": 18, "y2Offset": -40},
              "encoding": {
                "x": {"field": "stit", "type": "quantitative", "scale": {"domain": [0, 100], "zero": false, "nice": false}, "axis": null},
                "x2": {"field": "stit"},
                "y": {"field": "depth", "type": "quantitative", "scale": {"domain": [2484.95, 2704.95], "reverse": true, "zero": false, "nice": false}, "axis": null},
                "y2": {"field": "depth"}
              }
            },
            {
              "transform": [{"filter": "isValid(datum.label)"}],
              "mark": {"type": "point", "shape": "M0,0 L0.17,-1.83 L1.83,-1.17 Z", "size": 400, "filled": true, "opacity": 1, "color": "#000000", "strokeWidth": 0},
              "encoding": {
                "x": {"field": "stit", "type": "quantitative", "scale": {"domain": [0, 100], "zero": false, "nice": false}, "axis": null},
                "y": {"field": "depth", "type": "quantitative", "scale": {"domain": [2484.95, 2704.95], "reverse": true, "zero": false, "nice": false}, "axis": null}
              }
            },
            {
              "transform": [{"filter": "isValid(datum.label)"}],
              "mark": {"type": "text", "align": "left", "baseline": "middle", "dx": 3, "dy": -57.5, "font": "'Liberation Sans Narrow', 'DejaVu Sans Condensed', 'Liberation Sans', sans-serif", "fontSize": 26, "color": "#000000"},
              "encoding": {
                "x": {"field": "stit", "type": "quantitative", "scale": {"domain": [0, 100], "zero": false, "nice": false}, "axis": null},
                "y": {"field": "depth", "type": "quantitative", "scale": {"domain": [2484.95, 2704.95], "reverse": true, "zero": false, "nice": false}, "axis": null},
                "text": {"field": "label"}
              }
            }
          ]
        }
      ]
    },
    {
      "width": 162,
      "height": 2112,
      "data": {"name": "depthlabels"},
      "layer": [
        {
          "transform": [{"filter": "datum.depth % 50 !== 0"}],
          "mark": {"type": "text", "align": "left", "baseline": "middle", "dx": -62, "font": "DejaVu Sans Mono", "fontSize": 18, "color": "#000000"},
          "encoding": {
            "y": {"field": "depth", "type": "quantitative", "scale": {"domain": [2484.95, 2704.95], "reverse": true, "zero": false, "nice": false}, "axis": null},
            "text": {"field": "depth", "type": "quantitative", "format": "d"}
          }
        },
        {
          "transform": [{"filter": "datum.depth % 50 === 0"}],
          "mark": {"type": "text", "align": "left", "baseline": "middle", "dx": -62, "font": "DejaVu Sans Mono", "fontSize": 26, "fontWeight": "bold", "color": "#000000"},
          "encoding": {
            "y": {"field": "depth", "type": "quantitative", "scale": {"domain": [2484.95, 2704.95], "reverse": true, "zero": false, "nice": false}, "axis": null},
            "text": {"field": "depth", "type": "quantitative", "format": "d"}
          }
        }
      ]
    },
    {
      "width": 942,
      "height": 2112,
      "resolve": {"scale": {"x": "independent"}, "axis": {"x": "independent", "y": "independent"}},
      "layer": [
        {
          "data": {"name": "tens"},
          "resolve": {"axis": {"x": "independent", "y": "independent"}},
          "layer": [
            {
              "mark": {"type": "line", "color": "#000000", "strokeWidth": 1.6, "strokeDash": [5, 4], "clip": true},
              "encoding": {
                "x": {"field": "tens", "type": "quantitative", "scale": {"domain": [0, 10000], "range": [0, 960], "zero": false, "nice": false},
                  "axis": {"orient": "bottom", "values": [0, 500, 1000, 1500, 2000, 3000, 3500, 4000, 4500, 5500, 6000, 6500, 7000, 8000, 8500, 9000, 9500], "grid": true, "labels": false, "ticks": false, "domain": false, "title": null, "gridColor": "#a6a6a6", "gridWidth": 1.3, "gridOpacity": 1}},
                "y": {"field": "depth", "type": "quantitative", "scale": {"domain": [2484.95, 2704.95], "reverse": true, "zero": false, "nice": false},
                  "axis": {"orient": "left", "values": [2486,2488,2492,2494,2496,2498,2502,2504,2506,2508,2512,2514,2516,2518,2522,2524,2526,2528,2532,2534,2536,2538,2542,2544,2546,2548,2552,2554,2556,2558,2562,2564,2566,2568,2572,2574,2576,2578,2582,2584,2586,2588,2592,2594,2596,2598,2602,2604,2606,2608,2612,2614,2616,2618,2622,2624,2626,2628,2632,2634,2636,2638,2642,2644,2646,2648,2652,2654,2656,2658,2662,2664,2666,2668,2672,2674,2676,2678,2682,2684,2686,2688,2692,2694,2696,2698,2702,2704], "grid": true, "labels": false, "ticks": false, "domain": false, "title": null, "gridColor": "#3a3a3a", "gridWidth": 1, "gridOpacity": 1}},
                "order": {"field": "depth", "type": "quantitative"}
              }
            },
            {
              "transform": [{"filter": "isValid(datum.label)"}],
              "mark": {"type": "rule", "color": "#000000", "strokeWidth": 1.2, "x2Offset": 18, "y2Offset": -40},
              "encoding": {
                "x": {"field": "tens", "type": "quantitative", "scale": {"domain": [0, 10000], "range": [0, 960], "zero": false, "nice": false},
                  "axis": {"orient": "bottom", "values": [5000], "grid": true, "labels": false, "ticks": false, "domain": false, "title": null, "gridColor": "#4d4d4d", "gridWidth": 3, "gridOpacity": 1}},
                "x2": {"field": "tens"},
                "y": {"field": "depth", "type": "quantitative", "scale": {"domain": [2484.95, 2704.95], "reverse": true, "zero": false, "nice": false},
                  "axis": {"orient": "left", "values": [2490,2510,2520,2530,2540,2560,2570,2580,2590,2610,2620,2630,2640,2660,2670,2680,2690], "grid": true, "labels": false, "ticks": false, "domain": false, "title": null, "gridColor": "#000000", "gridWidth": 1.8, "gridOpacity": 1}},
                "y2": {"field": "depth"}
              }
            },
            {
              "transform": [{"filter": "isValid(datum.label)"}],
              "mark": {"type": "point", "shape": "M0,0 L0.17,-1.83 L1.83,-1.17 Z", "size": 400, "filled": true, "opacity": 1, "color": "#000000", "strokeWidth": 0},
              "encoding": {
                "x": {"field": "tens", "type": "quantitative", "scale": {"domain": [0, 10000], "range": [0, 960], "zero": false, "nice": false},
                  "axis": {"orient": "bottom", "values": [2500, 7500], "grid": true, "labels": false, "ticks": false, "domain": false, "title": null, "gridColor": "#7f7f7f", "gridWidth": 2.6, "gridOpacity": 1}},
                "y": {"field": "depth", "type": "quantitative", "scale": {"domain": [2484.95, 2704.95], "reverse": true, "zero": false, "nice": false},
                  "axis": {"orient": "left", "values": [2500, 2550, 2600, 2650, 2700], "grid": true, "labels": false, "ticks": false, "domain": false, "title": null, "gridColor": "#000000", "gridWidth": 3, "gridOpacity": 1}}
              }
            },
            {
              "transform": [{"filter": "isValid(datum.label)"}],
              "mark": {"type": "text", "align": "left", "baseline": "middle", "dx": 3, "dy": -57.5, "font": "'Liberation Sans Narrow', 'DejaVu Sans Condensed', 'Liberation Sans', sans-serif", "fontSize": 26, "color": "#000000"},
              "encoding": {
                "x": {"field": "tens", "type": "quantitative", "scale": {"domain": [0, 10000], "range": [0, 960], "zero": false, "nice": false}, "axis": null},
                "y": {"field": "depth", "type": "quantitative", "scale": {"domain": [2484.95, 2704.95], "reverse": true, "zero": false, "nice": false}, "axis": null},
                "text": {"field": "label"}
              }
            }
          ]
        },
        {
          "data": {"name": "sphi"},
          "layer": [
            {
              "mark": {"type": "line", "color": "#000000", "strokeWidth": 3, "clip": true, "strokeJoin": "round"},
              "encoding": {
                "x": {"field": "sphi", "type": "quantitative", "scale": {"domain": [0.45, -0.15], "range": [0, 480], "zero": false, "nice": false}, "axis": null},
                "y": {"field": "depth", "type": "quantitative", "scale": {"domain": [2484.95, 2704.95], "reverse": true, "zero": false, "nice": false}, "axis": null},
                "order": {"field": "depth", "type": "quantitative"}
              }
            },
            {
              "transform": [{"filter": "isValid(datum.label)"}],
              "mark": {"type": "rule", "color": "#000000", "strokeWidth": 1.2, "x2Offset": 18, "y2Offset": -40},
              "encoding": {
                "x": {"field": "sphi", "type": "quantitative", "scale": {"domain": [0.45, -0.15], "range": [0, 480], "zero": false, "nice": false}, "axis": null},
                "x2": {"field": "sphi"},
                "y": {"field": "depth", "type": "quantitative", "scale": {"domain": [2484.95, 2704.95], "reverse": true, "zero": false, "nice": false}, "axis": null},
                "y2": {"field": "depth"}
              }
            },
            {
              "transform": [{"filter": "isValid(datum.label)"}],
              "mark": {"type": "point", "shape": "M0,0 L0.17,-1.83 L1.83,-1.17 Z", "size": 400, "filled": true, "opacity": 1, "color": "#000000", "strokeWidth": 0},
              "encoding": {
                "x": {"field": "sphi", "type": "quantitative", "scale": {"domain": [0.45, -0.15], "range": [0, 480], "zero": false, "nice": false}, "axis": null},
                "y": {"field": "depth", "type": "quantitative", "scale": {"domain": [2484.95, 2704.95], "reverse": true, "zero": false, "nice": false}, "axis": null}
              }
            },
            {
              "transform": [{"filter": "isValid(datum.label)"}],
              "mark": {"type": "text", "align": "left", "baseline": "middle", "dx": 3, "dy": -57.5, "font": "'Liberation Sans Narrow', 'DejaVu Sans Condensed', 'Liberation Sans', sans-serif", "fontSize": 26, "color": "#000000"},
              "encoding": {
                "x": {"field": "sphi", "type": "quantitative", "scale": {"domain": [0.45, -0.15], "range": [0, 480], "zero": false, "nice": false}, "axis": null},
                "y": {"field": "depth", "type": "quantitative", "scale": {"domain": [2484.95, 2704.95], "reverse": true, "zero": false, "nice": false}, "axis": null},
                "text": {"field": "label"}
              }
            }
          ]
        },
        {
          "data": {"name": "dt"},
          "layer": [
            {
              "mark": {"type": "line", "color": "#0a84ff", "strokeWidth": 3, "clip": true, "strokeJoin": "round"},
              "encoding": {
                "x": {"field": "dt", "type": "quantitative", "scale": {"domain": [140, 40], "range": [0, 480], "zero": false, "nice": false}, "axis": null},
                "y": {"field": "depth", "type": "quantitative", "scale": {"domain": [2484.95, 2704.95], "reverse": true, "zero": false, "nice": false}, "axis": null},
                "order": {"field": "depth", "type": "quantitative"}
              }
            },
            {
              "transform": [{"filter": "isValid(datum.label)"}],
              "mark": {"type": "rule", "color": "#0a84ff", "strokeWidth": 1.2, "x2Offset": 18, "y2Offset": -40},
              "encoding": {
                "x": {"field": "dt", "type": "quantitative", "scale": {"domain": [140, 40], "range": [0, 480], "zero": false, "nice": false}, "axis": null},
                "x2": {"field": "dt"},
                "y": {"field": "depth", "type": "quantitative", "scale": {"domain": [2484.95, 2704.95], "reverse": true, "zero": false, "nice": false}, "axis": null},
                "y2": {"field": "depth"}
              }
            },
            {
              "transform": [{"filter": "isValid(datum.label)"}],
              "mark": {"type": "point", "shape": "M0,0 L0.17,-1.83 L1.83,-1.17 Z", "size": 400, "filled": true, "opacity": 1, "color": "#0a84ff", "strokeWidth": 0},
              "encoding": {
                "x": {"field": "dt", "type": "quantitative", "scale": {"domain": [140, 40], "range": [0, 480], "zero": false, "nice": false}, "axis": null},
                "y": {"field": "depth", "type": "quantitative", "scale": {"domain": [2484.95, 2704.95], "reverse": true, "zero": false, "nice": false}, "axis": null}
              }
            },
            {
              "transform": [{"filter": "isValid(datum.label)"}],
              "mark": {"type": "text", "align": "left", "baseline": "middle", "dx": 3, "dy": -57.5, "font": "'Liberation Sans Narrow', 'DejaVu Sans Condensed', 'Liberation Sans', sans-serif", "fontSize": 26, "color": "#0a84ff"},
              "encoding": {
                "x": {"field": "dt", "type": "quantitative", "scale": {"domain": [140, 40], "range": [0, 480], "zero": false, "nice": false}, "axis": null},
                "y": {"field": "depth", "type": "quantitative", "scale": {"domain": [2484.95, 2704.95], "reverse": true, "zero": false, "nice": false}, "axis": null},
                "text": {"field": "label"}
              }
            }
          ]
        }
      ]
    }
  ]
}
